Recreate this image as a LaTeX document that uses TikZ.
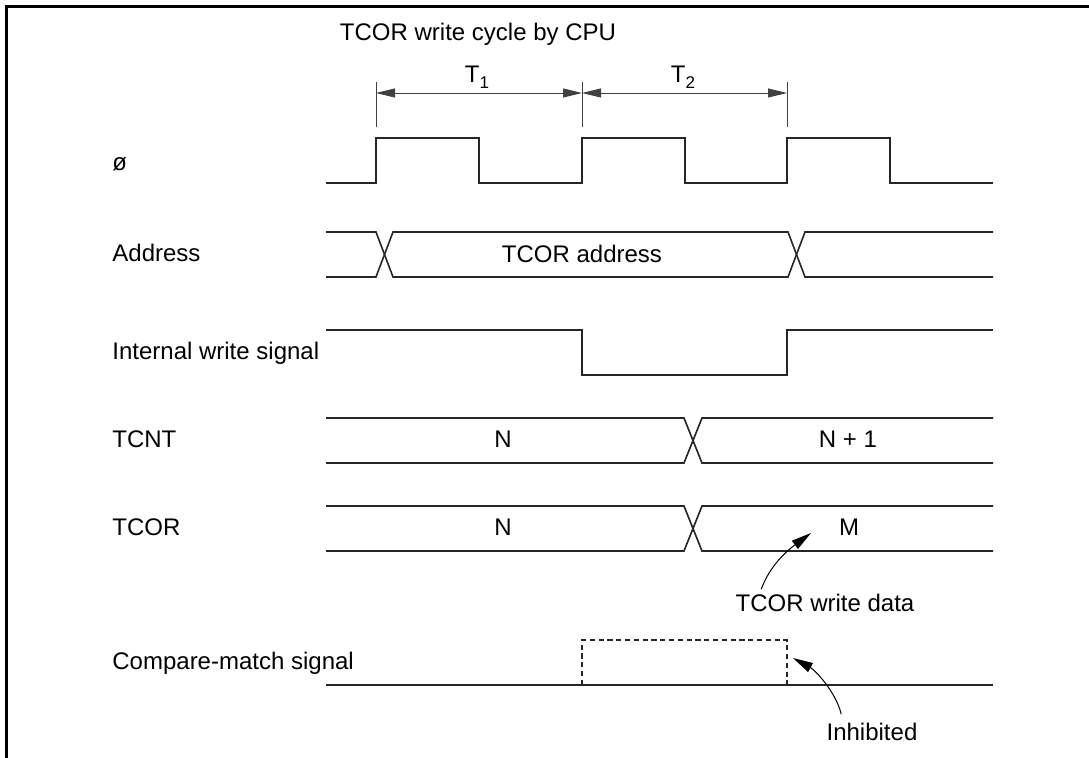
\documentclass[tikz,border=0pt]{standalone}
\usepackage{fontspec}
\setmainfont{Liberation Sans}
\usetikzlibrary{arrows.meta}

\tikzset{
  sig/.style={line width=0.8pt, black!85},
  dimline/.style={line width=0.45pt, black!75},
  signame/.style={anchor=base west, inner sep=0pt, font=\fontsize{12}{14}\selectfont},
  val/.style={anchor=base, inner sep=0pt, font=\fontsize{12}{14}\selectfont},
  note/.style={-{Triangle[length=10pt,width=5pt]}, line width=0.5pt},
}

\begin{document}
\begin{tikzpicture}[x=0.5pt, y=-0.5pt, line cap=butt, line join=miter]
  \useasboundingbox (0,0) rectangle (1089,758);
  % open frame (top and left only)
  \draw[line width=1.1pt] (6.5,758) -- (6.5,6.5) -- (1089,6.5);

  % signal names
  \node[signame] (phi)  at (112,171) {ø};
  \node[signame] (addr) at (112,262) {Address};
  \node[signame] (wr)   at (112,360) {Internal write signal};
  \node[signame] (tcnt) at (112,448) {TCNT};
  \node[signame] (tcor) at (112,536) {TCOR};
  \node[signame] (cmp)  at (112,670) {Compare-match signal};

  % cycle dimensioning
  \node[val] (title) at (478,41) {TCOR write cycle by CPU};
  \foreach \x/\n in {376/a,582/b,787/c} {
    \draw[dimline] (\x,82) -- (\x,127);
    \coordinate (t\n) at (\x,93);
  }
  \draw[dimline, {Triangle[length=9.5pt,width=4.5pt]}-{Triangle[length=9.5pt,width=4.5pt]}] (ta) -- (tb);
  \draw[dimline, {Triangle[length=9.5pt,width=4.5pt]}-{Triangle[length=9.5pt,width=4.5pt]}] (tb) -- (tc);
  \node[val] (T1) at (477,83) {T\raisebox{-0.45ex}{\fontsize{8.5}{9}\selectfont 1}};
  \node[val] (T2) at (683,83) {T\raisebox{-0.45ex}{\fontsize{8.5}{9}\selectfont 2}};

  % clock
  \draw[sig] (326,183) \foreach \x in {376,582,787} {
      -- (\x,183) -- (\x,138) -- (\x+103,138) -- (\x+103,183)} -- (993,183);

  % address bus
  \draw[sig] (326,232) -- (376,232) -- (393,277) -- (788,277) -- (805,232) -- (993,232);
  \draw[sig] (326,277) -- (376,277) -- (393,232) -- (788,232) -- (805,277) -- (993,277);
  \node[val] (addrval) at (582,263) {TCOR address};

  % internal write signal
  \draw[sig] (326,330) -- (582,330) -- (582,375) -- (787,375) -- (787,330) -- (993,330);

  % TCNT and TCOR buses
  \foreach \t/\b in {418/463,506/551} {
    \draw[sig] (326,\t) -- (684,\t) -- (702,\b) -- (993,\b);
    \draw[sig] (326,\b) -- (684,\b) -- (702,\t) -- (993,\t);
  }
  \node[val] (cntN)  at (503,448) {N};
  \node[val] (cntN1) at (848,448) {N + 1};
  \node[val] (corN)  at (503,536) {N};
  \node[val] (corM)  at (849,536) {M};

  % compare-match signal
  \draw[sig] (326,685) -- (993,685);
  \draw[sig, dash pattern=on 2.6pt off 1.8pt] (582,685) -- (582,640) -- (787,640) -- (787,685);

  % annotations
  \node[val] (wdata) at (825,612) {TCOR write data};
  \node[val] (inhib) at (872,741) {Inhibited};
  \coordinate (wtip) at (811,533);
  \coordinate (itip) at (793,658);
  \draw[note] (wdata.north west) ++(26,-5) .. controls (770,565) and (788,550) .. (wtip);
  \draw[note] (inhib.north west) ++(15,-9) .. controls (836,692) and (815,670) .. (itip);
\end{tikzpicture}
\end{document}
